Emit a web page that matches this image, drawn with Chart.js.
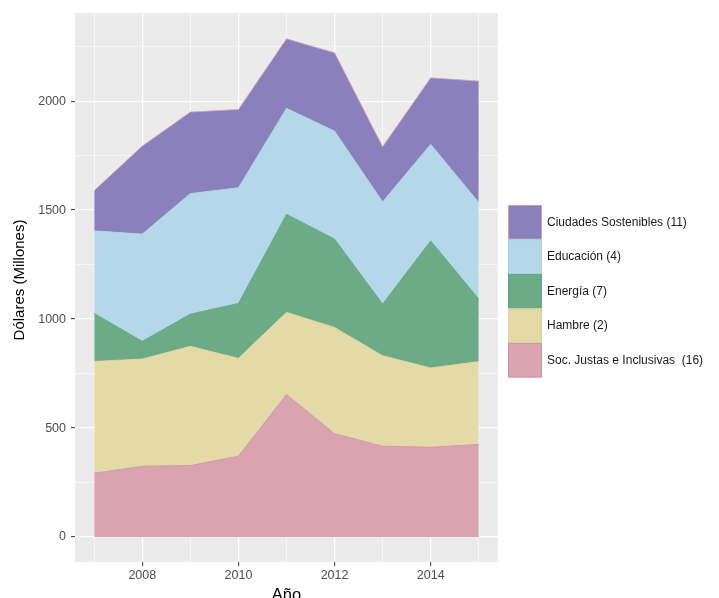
<!DOCTYPE html>
<html>
<head>
<meta charset="utf-8">
<script src="https://cdn.jsdelivr.net/npm/chart.js@4/dist/chart.umd.min.js"></script>
<style>
html,body{margin:0;padding:0;background:#fff;}
#wrap{width:719px;height:598px;}
</style>
</head>
<body>
<div id="wrap"><canvas id="c" width="719" height="598"></canvas></div>
<script>
const years = [2007, 2008, 2009, 2010, 2011, 2012, 2013, 2014, 2015];
const socJustas  = [293, 325, 328, 371, 654, 474, 417, 412, 425];
const hambre     = [513, 492, 547, 449, 377, 488, 415, 364, 380];
const energia    = [220,  81, 148, 252, 450, 405, 237, 583, 287];
const educacion  = [379, 492, 553, 531, 486, 496, 469, 443, 443];
const ciudades   = [185, 404, 374, 359, 319, 359, 253, 305, 557];
const seriesNames = ['Soc. Justas e Inclusivas  (16)', 'Hambre (2)', 'Energía (7)', 'Educación (4)', 'Ciudades Sostenibles (11)'];
const yTickValues = [0, 250, 500, 750, 1000, 1250, 1500, 1750, 2000, 2250];
const yMajorTicks = [0, 500, 1000, 1500, 2000];
const xTickValues = [2007, 2008, 2009, 2010, 2011, 2012, 2013, 2014, 2015];
const xMajorTicks = [2008, 2010, 2012, 2014];
const xTitle = 'Año';
const yTitle = 'Dólares (Millones)';

const fills   = ['#d9a3b0', '#e4daa8', '#6dab86', '#b4d8e9', '#8a80bb'];
const borders = ['#c993a5', '#d8d39a', '#5aa78a', '#a9cfe0', '#d9a6b9'];

const seriesData = [socJustas, hambre, energia, educacion, ciudades];
const datasets = seriesData.map((arr, i) => ({
  label: seriesNames[i],
  data: arr.map((v, j) => ({x: years[j], y: v})),
  backgroundColor: fills[i],
  borderColor: borders[i],
  borderWidth: 0.8,
  pointRadius: 0,
  tension: 0,
  fill: i === 0 ? 'origin' : '-1'
}));

const panelBg = {
  id: 'panelBg',
  beforeDraw(chart) {
    const {ctx, chartArea: a} = chart;
    ctx.save();
    ctx.fillStyle = '#ebebeb';
    ctx.fillRect(a.left, a.top, a.right - a.left, a.bottom - a.top);
    ctx.restore();
  }
};

const yTitlePlugin = {
  id: 'yTitlePlugin',
  afterDraw(chart) {
    const ctx = chart.ctx;
    ctx.save();
    ctx.translate(19.5, 280);
    ctx.rotate(-Math.PI / 2);
    ctx.font = '15px "Liberation Sans", Arial, sans-serif';
    ctx.fillStyle = '#000';
    ctx.textAlign = 'center';
    ctx.textBaseline = 'middle';
    ctx.fillText(yTitle, 0, 0);
    ctx.restore();
  }
};

const customLegend = {
  id: 'customLegend',
  afterDraw(chart) {
    const ctx = chart.ctx;
    const x0 = 508, y0 = 205, kw = 34, kh = 34.5;
    ctx.save();
    ctx.font = '12px "Liberation Sans", Arial, sans-serif';
    ctx.textBaseline = 'middle';
    ctx.textAlign = 'left';
    for (let k = 0; k < seriesNames.length; k++) {
      const i = seriesNames.length - 1 - k;
      const y = y0 + k * kh;
      ctx.fillStyle = fills[i];
      ctx.fillRect(x0, y, kw, kh);
      ctx.strokeStyle = borders[i];
      ctx.lineWidth = 0.8;
      ctx.strokeRect(x0 + 0.4, y + 0.4, kw - 0.8, kh - 0.8);
      ctx.fillStyle = '#1a1a1a';
      ctx.fillText(seriesNames[i], 547, y + kh / 2);
    }
    ctx.restore();
  }
};

const tickFont = {family: '"Liberation Sans", Arial, sans-serif', size: 12.5};
const titleFont = {family: '"Liberation Sans", Arial, sans-serif', size: 16.5, lineHeight: 1};

new Chart(document.getElementById('c'), {
  type: 'line',
  data: {datasets},
  plugins: [panelBg, yTitlePlugin, customLegend],
  options: {
    responsive: false,
    animation: false,
    layout: {padding: {left: 0, right: 221, top: 13, bottom: 0}},
    plugins: {legend: {display: false}, tooltip: {enabled: false}},
    scales: {
      x: {
        type: 'linear',
        min: 2006.6,
        max: 2015.4,
        afterBuildTicks: s => { s.ticks = xTickValues.map(v => ({value: v})); },
        afterFit: s => { s.height = 36; },
        border: {display: false},
        grid: {
          color: '#ffffff',
          lineWidth: c => xMajorTicks.includes(c.tick && c.tick.value) ? 1.3 : 0.6,
          tickColor: c => xMajorTicks.includes(c.tick && c.tick.value) ? '#333333' : 'rgba(0,0,0,0)',
          tickWidth: 1,
          tickLength: 4
        },
        ticks: {
          autoSkip: false,
          maxRotation: 0,
          color: '#4d4d4d',
          font: tickFont,
          padding: 2,
          callback: v => xMajorTicks.includes(v) ? String(v) : ''
        },
        title: {display: true, text: xTitle, color: '#000', font: titleFont, padding: {top: 0, bottom: -6}}
      },
      y: {
        stacked: true,
        min: -114.5,
        max: 2404.5,
        afterBuildTicks: s => { s.ticks = yTickValues.map(v => ({value: v})); },
        afterFit: s => { s.width = 75; },
        border: {display: false},
        grid: {
          color: '#ffffff',
          lineWidth: c => yMajorTicks.includes(c.tick && c.tick.value) ? 1.3 : 0.6,
          tickColor: c => yMajorTicks.includes(c.tick && c.tick.value) ? '#333333' : 'rgba(0,0,0,0)',
          tickWidth: 1,
          tickLength: 4
        },
        ticks: {
          autoSkip: false,
          color: '#4d4d4d',
          font: tickFont,
          padding: 5,
          callback: v => yMajorTicks.includes(v) ? String(v) : ''
        },
        title: {display: false}
      }
    }
  }
});
</script>
</body>
</html>
